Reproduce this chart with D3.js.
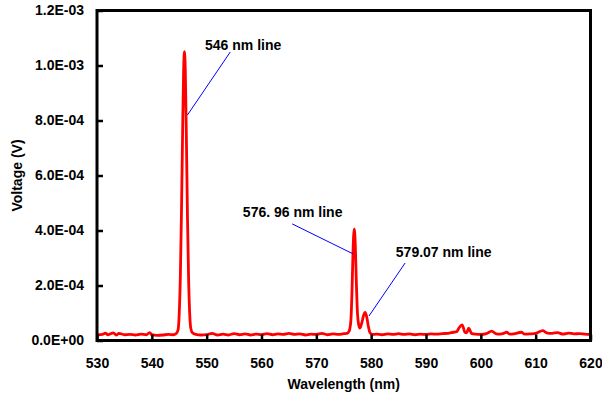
<!DOCTYPE html>
<html>
<head>
<meta charset="utf-8">
<script src="https://cdn.jsdelivr.net/npm/d3@7"></script>
<style>
  body { margin: 0; background: #fff; }
  svg { display: block; font-family: "Liberation Sans", Arial, sans-serif; font-weight: bold; }
</style>
</head>
<body>
<svg id="chart" width="602" height="403"></svg>
<script>
// wavelength (nm)
const wavelength = [
  530, 531, 531.5, 532, 533, 533.5, 534, 535, 536, 537, 538, 539, 539.6, 540,
  541, 542, 543, 544, 544.5, 544.8, 545.0, 545.2, 545.4, 545.6, 545.8, 545.95,
  546.1, 546.3, 546.5, 546.7, 546.9, 547.1, 547.4, 548, 549, 550, 551, 552, 553,
  554, 555, 556, 557, 558, 559, 560, 561, 562, 563, 564, 565, 566, 567, 568, 569,
  570, 571, 572, 573, 574, 575, 575.6, 576.0, 576.3, 576.5, 576.7, 576.92, 577.1,
  577.3, 577.5, 577.7, 577.95, 578.3, 578.6, 578.9, 579.2, 579.5, 579.8, 580.2,
  581, 582, 583, 584, 585, 586, 587, 588, 589, 590, 591, 592, 593, 594, 595,
  595.6, 596.0, 596.6, 597.1, 597.4, 597.8, 598.3, 599, 600, 601, 602, 602.6, 603,
  604, 604.7, 605.3, 606, 607.4, 608, 609, 610, 611.3, 612, 613, 614, 615, 616,
  617, 618, 619, 620
];
// voltage (V)
const voltage = [
  2.0e-5, 2.2e-5, 2.7e-5, 2.1e-5, 2.8e-5, 2.0e-5, 2.6e-5, 2.1e-5, 2.2e-5, 2.0e-5, 2.3e-5, 2.1e-5, 2.9e-5, 2.1e-5,
  1.9e-5, 2.0e-5, 2.2e-5, 2.1e-5, 2.6e-5, 4.0e-5, 1.0e-4, 2.3e-4, 4.6e-4, 7.4e-4, 9.85e-4, 1.05e-3,
  9.85e-4, 7.4e-4, 4.5e-4, 2.3e-4, 1.0e-4, 4.5e-5, 2.8e-5, 2.2e-5, 2.0e-5, 2.1e-5, 2.6e-5, 2.0e-5, 2.3e-5,
  2.0e-5, 2.5e-5, 2.1e-5, 2.4e-5, 2.0e-5, 2.3e-5, 2.1e-5, 2.5e-5, 2.1e-5, 2.4e-5, 2.2e-5, 2.6e-5, 2.2e-5, 2.4e-5, 2.0e-5, 2.3e-5,
  2.2e-5, 2.6e-5, 2.1e-5, 2.4e-5, 2.2e-5, 2.5e-5, 2.6e-5, 3.5e-5, 7.3e-5, 1.75e-4, 3.3e-4, 4.05e-4, 3.5e-4,
  2.1e-4, 1.0e-4, 6.0e-5, 4.5e-5, 6.5e-5, 9.0e-5, 1.02e-4, 8.5e-5, 5.0e-5, 2.8e-5, 2.2e-5,
  2.3e-5, 2.1e-5, 2.4e-5, 2.2e-5, 2.5e-5, 2.2e-5, 2.4e-5, 2.1e-5, 2.3e-5, 2.2e-5, 2.4e-5, 2.3e-5, 2.5e-5, 2.6e-5, 3.0e-5,
  3.2e-5, 4.5e-5, 5.7e-5, 3.0e-5, 2.8e-5, 4.5e-5, 2.6e-5, 2.3e-5, 2.2e-5, 2.5e-5, 3.4e-5, 2.6e-5, 2.3e-5,
  2.5e-5, 3.0e-5, 2.3e-5, 2.4e-5, 3.0e-5, 2.3e-5, 2.4e-5, 2.6e-5, 3.6e-5, 2.8e-5, 2.6e-5, 2.9e-5, 2.3e-5, 2.7e-5,
  2.4e-5, 2.5e-5, 2.3e-5, 2.2e-5
];

const xTicks = [530, 540, 550, 560, 570, 580, 590, 600, 610, 620];
const yTicks = [0, 2e-4, 4e-4, 6e-4, 8e-4, 1.0e-3, 1.2e-3];

// annotation labels: text anchor point and leader line (start, end) in data units
const noteLabels = ["546 nm line", "576. 96 nm line", "579.07 nm line"];
const noteText = [[549.7, 1.056e-3], [556.6, 4.49e-4], [584.5, 3.04e-4]];
const noteFrom = [[554.3, 1.049e-3], [565.6, 4.24e-4], [586.2, 2.82e-4]];
const noteTo = [[546.5, 8.2e-4], [576.7, 3.15e-4], [579.6, 0.89e-4]];

const svg = d3.select("#chart");
const plotLeft = 97, plotRight = 590.5, plotTop = 10.5, plotBottom = 340.5;

const x = d3.scaleLinear().domain([530, 620]).range([plotLeft, plotRight]);
const y = d3.scaleLinear().domain([0, 1.2e-3]).range([plotBottom, plotTop]);

function sciLabel(v) {
    const s = d3.format(".1e")(v); // e.g. 1.2e-3
    const [m, e] = s.split("e");
    const n = +e;
    return m + "E" + (n < 0 ? "-" : "+") + String(Math.abs(n)).padStart(2, "0");
}

// line
const pts = wavelength.map((w, i) => [w, voltage[i]]);
const line = d3.line()
    .x(d => x(d[0]))
    .y(d => y(d[1]))
    .curve(d3.curveMonotoneX);

svg.append("path")
    .datum(pts)
    .attr("d", line)
    .attr("fill", "none")
    .attr("stroke", "#ff0000")
    .attr("stroke-width", 2.8)
    .attr("stroke-linejoin", "round");

// frame
svg.append("rect")
    .attr("x", plotLeft).attr("y", plotTop)
    .attr("width", plotRight - plotLeft).attr("height", plotBottom - plotTop)
    .attr("fill", "none")
    .attr("stroke", "#000")
    .attr("stroke-width", 3);

// axes
const xAxis = svg.append("g")
    .attr("transform", `translate(0,${plotBottom})`)
    .call(d3.axisBottom(x).tickValues(xTicks).tickSizeInner(-6).tickSizeOuter(0).tickPadding(18).tickFormat(d3.format("d")));
xAxis.select(".domain").remove();
xAxis.selectAll(".tick line").attr("stroke-width", 2.5);
xAxis.selectAll("text").attr("font-size", 14).attr("font-family", null).attr("fill", "#000");

const yAxis = svg.append("g")
    .attr("transform", `translate(${plotLeft},0)`)
    .call(d3.axisLeft(y).tickValues(yTicks).tickSizeInner(-6).tickSizeOuter(0).tickPadding(13).tickFormat(sciLabel));
yAxis.select(".domain").remove();
yAxis.selectAll(".tick line").attr("stroke-width", 2.5);
yAxis.selectAll("text").attr("font-size", 14).attr("font-family", null).attr("fill", "#000");

// axis titles
svg.append("text")
    .attr("x", (plotLeft + plotRight) / 2).attr("y", 389)
    .attr("text-anchor", "middle")
    .attr("font-size", 14)
    .text("Wavelength (nm)");

svg.append("text")
    .attr("transform", `translate(22,${(plotTop + plotBottom) / 2}) rotate(-90)`)
    .attr("text-anchor", "middle")
    .attr("font-size", 14)
    .text("Voltage (V)");

// annotations
noteLabels.forEach((lab, i) => {
    svg.append("line")
        .attr("x1", x(noteFrom[i][0])).attr("y1", y(noteFrom[i][1]))
        .attr("x2", x(noteTo[i][0])).attr("y2", y(noteTo[i][1]))
        .attr("stroke", "#0000ff")
        .attr("stroke-width", 1);
    svg.append("text")
        .attr("x", x(noteText[i][0])).attr("y", y(noteText[i][1]))
        .attr("font-size", 14)
        .text(lab);
});
</script>
</body>
</html>
